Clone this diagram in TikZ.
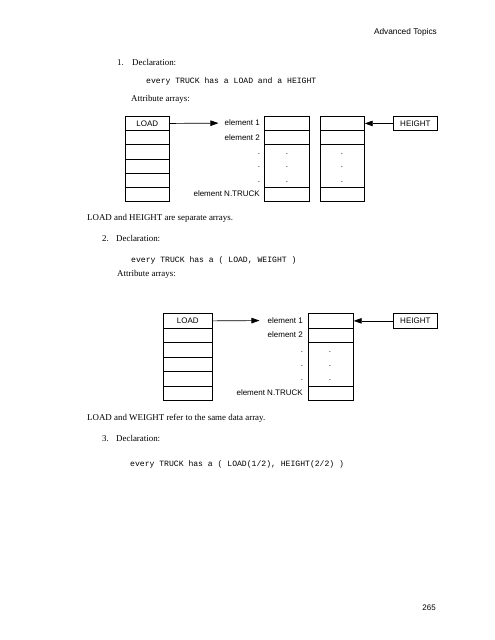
\documentclass[tikz,border=0pt]{standalone}
\usepackage{fontspec}
\setmainfont{Liberation Serif}
\setsansfont{Liberation Sans}
\setmonofont{Liberation Mono}
\usetikzlibrary{arrows.meta}
\begin{document}
\begin{tikzpicture}[x=1pt,y=-1pt,
  cell/.style={draw, line width=0.7pt, rectangle, inner sep=0pt, anchor=north west, font=\sffamily\fontsize{8}{9}\selectfont},
  body/.style={anchor=base west, inner sep=0pt, font=\fontsize{8.9}{10}\selectfont},
  code/.style={anchor=base west, inner sep=0pt, font=\ttfamily\fontsize{8.1}{10}\selectfont},
  lbl/.style={anchor=east, inner sep=0pt, font=\sffamily\fontsize{8}{9}\selectfont},
  dotmark/.style={inner sep=0pt, font=\sffamily\fontsize{8}{9}\selectfont},
  ptr/.style={-{Triangle[length=8pt,width=5.5pt]}, line width=0.7pt}]
\useasboundingbox (0,0) rectangle (495,640);

% header and page number
\node[anchor=east, inner sep=0pt, font=\sffamily\fontsize{8.3}{10}\selectfont] (hdr) at (437,32) {Advanced Topics};
\node[anchor=east, inner sep=0pt, font=\sffamily\fontsize{8}{10}\selectfont] (pg) at (436,608) {265};

% ---------- section 1 ----------
\node[body] (n1) at (117,65) {1.};
\node[body] (d1) at (132,65) {Declaration:};
\node[code] (c1) at (146,83) {every TRUCK has a LOAD and a HEIGHT};
\node[body] (a1) at (131,101) {Attribute arrays:};

% LOAD column
\node[cell, minimum width=44pt, minimum height=14.17pt] (L1a) at (125,116) {LOAD};
\node[cell, minimum width=44pt, minimum height=14.17pt] (L1b) at (125,130.17) {};
\node[cell, minimum width=44pt, minimum height=14.17pt] (L1c) at (125,144.33) {};
\node[cell, minimum width=44pt, minimum height=14.17pt] (L1d) at (125,158.5) {};
\node[cell, minimum width=44pt, minimum height=14.17pt] (L1e) at (125,172.67) {};
\node[cell, minimum width=44pt, minimum height=14.17pt] (L1f) at (125,186.83) {};

% middle array
\node[cell, minimum width=45pt, minimum height=14.17pt] (M1a) at (264,116) {};
\node[cell, minimum width=45pt, minimum height=14.17pt] (M1b) at (264,130.17) {};
\node[cell, minimum width=45pt, minimum height=42.5pt] (M1c) at (264,144.33) {};
\node[cell, minimum width=45pt, minimum height=14.17pt] (M1d) at (264,186.83) {};

% right array
\node[cell, minimum width=44pt, minimum height=14.17pt] (R1a) at (320,116) {};
\node[cell, minimum width=44pt, minimum height=14.17pt] (R1b) at (320,130.17) {};
\node[cell, minimum width=44pt, minimum height=42.5pt] (R1c) at (320,144.33) {};
\node[cell, minimum width=44pt, minimum height=14.17pt] (R1d) at (320,186.83) {};

% HEIGHT box
\node[cell, minimum width=44pt, minimum height=14.17pt] (H1) at (393,116) {HEIGHT};

% labels
\node[lbl] (E1a) at (260,123.1) {element 1};
\node[lbl] (E1b) at (260,137.25) {element 2};
\node[lbl] (E1n) at (260,193.9) {element N.TRUCK};

% dots
\foreach \yy [count=\i] in {154,167.5,182}{
  \node[dotmark] (p1l\i) at (259,\yy) {.};
  \node[dotmark] (p1m\i) at (287,\yy) {.};
  \node[dotmark] (p1r\i) at (342,\yy) {.};
}

\draw[ptr, shorten >=6pt] (L1a.east) -- (E1a.west);
\draw[ptr] (H1.west) -- (R1a.east);

\node[body] (t1) at (87,220) {LOAD and HEIGHT are separate arrays.};

% ---------- section 2 ----------
\node[body] (n2) at (102,241) {2.};
\node[body] (d2) at (116,241) {Declaration:};
\node[code] (c2) at (131,262) {every TRUCK has a ( LOAD, WEIGHT )};
\node[body] (a2) at (117,276) {Attribute arrays:};

% LOAD column
\node[cell, minimum width=49pt, minimum height=14.45pt] (L2a) at (163,313.3) {LOAD};
\node[cell, minimum width=49pt, minimum height=14.45pt] (L2b) at (163,327.75) {};
\node[cell, minimum width=49pt, minimum height=14.45pt] (L2c) at (163,342.2) {};
\node[cell, minimum width=49pt, minimum height=14.45pt] (L2d) at (163,356.65) {};
\node[cell, minimum width=49pt, minimum height=14.45pt] (L2e) at (163,371.1) {};
\node[cell, minimum width=49pt, minimum height=14.45pt] (L2f) at (163,385.55) {};

% shared array
\node[cell, minimum width=45pt, minimum height=14.45pt] (A2a) at (308,313.3) {};
\node[cell, minimum width=45pt, minimum height=14.45pt] (A2b) at (308,327.75) {};
\node[cell, minimum width=45pt, minimum height=43.35pt] (A2c) at (308,342.2) {};
\node[cell, minimum width=45pt, minimum height=14.45pt] (A2d) at (308,385.55) {};

% HEIGHT box
\node[cell, minimum width=44pt, minimum height=14.45pt] (H2) at (393,313.3) {HEIGHT};

% labels
\node[lbl] (E2a) at (303,320.5) {element 1};
\node[lbl] (E2b) at (303,335) {element 2};
\node[lbl] (E2n) at (303,392.8) {element N.TRUCK};

\foreach \yy [count=\i] in {352,366,380}{
  \node[dotmark] (p2l\i) at (302,\yy) {.};
  \node[dotmark] (p2m\i) at (330,\yy) {.};
}

\draw[ptr, shorten >=8pt] (L2a.east) -- (E2a.west);
\draw[ptr] (H2.west) -- (A2a.east);

\node[body] (t2) at (87,420) {LOAD and WEIGHT refer to the same data array.};

% ---------- section 3 ----------
\node[body] (n3) at (102,441) {3.};
\node[body] (d3) at (116,441) {Declaration:};
\node[code] (c3) at (130,466) {every TRUCK has a ( LOAD(1/2), HEIGHT(2/2) )};
\end{tikzpicture}
\end{document}
